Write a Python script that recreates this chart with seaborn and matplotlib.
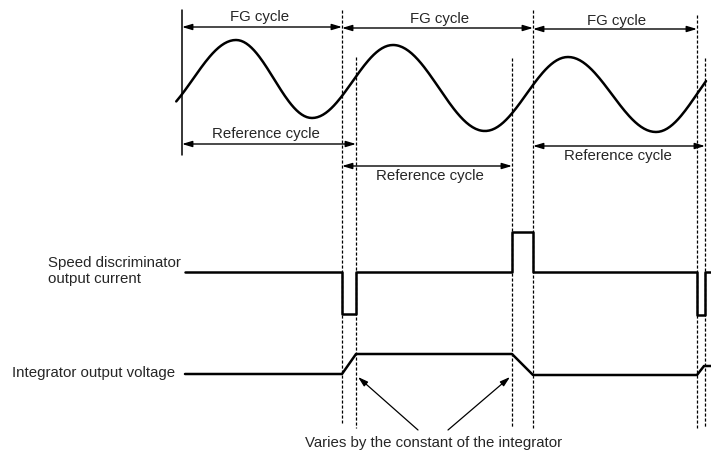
import numpy as np
import pandas as pd
import matplotlib
matplotlib.use("Agg")
import matplotlib.pyplot as plt
import seaborn as sns

# timing diagram, units are roughly pixels of the 711x457 canvas (y grows downward)
fg_edges = [182, 342, 533, 697]
ref1_edges = [182, 356]
ref2_edges = [342, 512]
ref3_edges = [533, 705]

# FG waveform extrema (x, y), virtual ones outside the drawn span
wave_x = [150, 236, 312, 393, 485, 568, 656, 738]
wave_y = [118, 40, 118, 45, 131, 57, 132, 56]
wave_span = [176, 707]

# speed discriminator output current
sd_x = [185, 342, 342, 356, 356, 512, 512, 533, 533, 697, 697, 705, 705, 711]
sd_y = [272, 272, 314, 314, 272, 272, 232, 232, 272, 272, 315, 315, 272, 272]

# integrator output voltage
iv_x = [185, 342, 356, 512, 533, 697, 704, 711]
iv_y = [374, 374, 354, 354, 375, 375, 366, 366]

# dashed guide lines: x, top, bottom
guide_x = [342, 356, 512, 533, 697, 705]
guide_top = [10, 57, 58, 10, 15, 58]
guide_bot = [423, 428, 428, 428, 428, 428]

sns.set_style("white")
plt.rcParams["font.family"] = ["Liberation Sans", "DejaVu Sans"]

fig = plt.figure(figsize=(7.11, 4.57), dpi=100)
ax = fig.add_axes([0, 0, 1, 1])

# build the wave from half-cosine pieces between extrema
xs, ys = [], []
for i in range(len(wave_x) - 1):
    t = np.linspace(0, 1, 60)
    seg_x = wave_x[i] + (wave_x[i + 1] - wave_x[i]) * t
    seg_y = wave_y[i] + (wave_y[i + 1] - wave_y[i]) * (1 - np.cos(np.pi * t)) / 2
    xs.extend(seg_x)
    ys.extend(seg_y)
wave = pd.DataFrame({"x": xs, "y": ys})
wave = wave[(wave.x >= wave_span[0]) & (wave.x <= wave_span[1])]
sns.lineplot(data=wave, x="x", y="y", sort=False, estimator=None, color="black", lw=1.8, ax=ax)

sig = pd.DataFrame({"x": sd_x, "y": sd_y})
sns.lineplot(data=sig, x="x", y="y", sort=False, estimator=None, color="black", lw=1.8, ax=ax)
integ = pd.DataFrame({"x": iv_x, "y": iv_y})
sns.lineplot(data=integ, x="x", y="y", sort=False, estimator=None, color="black", lw=1.8, ax=ax)

# guides
ax.plot([182, 182], [10, 155], color="black", lw=1.1)
for gx, t0, t1 in zip(guide_x, guide_top, guide_bot):
    ax.plot([gx, gx], [t0, t1], color="black", lw=0.9, ls=(0, (2.5, 1.5)))

arrow = dict(arrowstyle="<|-|>,head_length=0.6,head_width=0.18", color="black",
             lw=1.0, shrinkA=0, shrinkB=0)
fs = 10.8

# FG cycle arrows
fg_y = [27, 28, 29]
for i in range(3):
    a, b = fg_edges[i], fg_edges[i + 1]
    ax.annotate("", xy=(a, fg_y[i]), xytext=(b, fg_y[i]), arrowprops=arrow)
ax.text(260, 17, "FG cycle", ha="center", va="center", fontsize=fs)
ax.text(440, 19, "FG cycle", ha="center", va="center", fontsize=fs)
ax.text(617, 21, "FG cycle", ha="center", va="center", fontsize=fs)

# reference cycle arrows
ax.annotate("", xy=(ref1_edges[0], 144), xytext=(ref1_edges[1], 144), arrowprops=arrow)
ax.annotate("", xy=(ref2_edges[0], 166), xytext=(ref2_edges[1], 166), arrowprops=arrow)
ax.annotate("", xy=(ref3_edges[0], 146), xytext=(ref3_edges[1], 146), arrowprops=arrow)
ax.text(266, 134, "Reference cycle", ha="center", va="center", fontsize=fs)
ax.text(430, 176, "Reference cycle", ha="center", va="center", fontsize=fs)
ax.text(618, 156, "Reference cycle", ha="center", va="center", fontsize=fs)

# signal labels
ax.text(48, 271, "Speed discriminator\noutput current", ha="left", va="center",
        fontsize=fs, linespacing=1.2)
ax.text(12, 373, "Integrator output voltage", ha="left", va="center", fontsize=fs)

# note with arrows
note = dict(arrowstyle="-|>,head_length=0.6,head_width=0.18", color="black",
            lw=0.9, shrinkA=0, shrinkB=0)
ax.annotate("", xy=(358, 377), xytext=(418, 430), arrowprops=note)
ax.annotate("", xy=(510, 377), xytext=(448, 430), arrowprops=note)
ax.text(434, 443, "Varies by the constant of the integrator", ha="center",
        va="center", fontsize=fs)

ax.set_xlim(0, 711)
ax.set_ylim(457, 0)
ax.axis("off")
fig.savefig("out.png", dpi=100)
